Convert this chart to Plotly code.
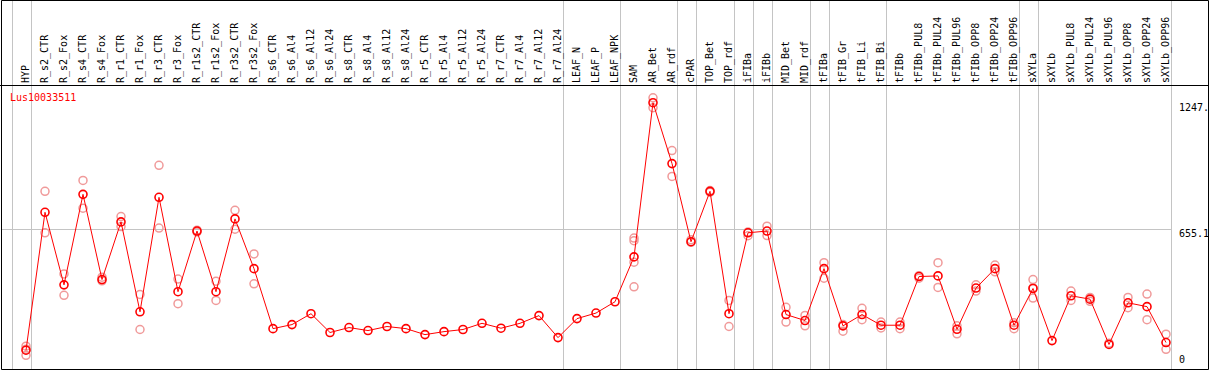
import plotly.graph_objects as go

# ---------------- data ----------------
gene = "Lus10033511"

categories = [
    "HYP", "R_s2_CTR", "R_s2_Fox", "R_s4_CTR", "R_s4_Fox", "R_r1_CTR", "R_r1_Fox",
    "R_r3_CTR", "R_r3_Fox", "R_r1s2_CTR", "R_r1s2_Fox", "R_r3s2_CTR", "R_r3s2_Fox",
    "R_s6_CTR", "R_s6_Al4", "R_s6_Al12", "R_s6_Al24", "R_s8_CTR", "R_s8_Al4",
    "R_s8_Al12", "R_s8_Al24", "R_r5_CTR", "R_r5_Al4", "R_r5_Al12", "R_r5_Al24",
    "R_r7_CTR", "R_r7_Al4", "R_r7_Al12", "R_r7_Al24", "LEAF_N", "LEAF_P", "LEAF_NPK",
    "SAM", "AR_Bet", "AR_rdf", "cPAR", "TOP_Bet", "TOP_rdf", "iFIBa", "iFIBb",
    "MID_Bet", "MID_rdf", "tFIBa", "tFIB_Gr", "tFIB_Li", "tFIB_Bi", "tFIBb",
    "tFIBb_PUL8", "tFIBb_PUL24", "tFIBb_PUL96", "tFIBb_OPP8", "tFIBb_OPP24",
    "tFIBb_OPP96", "sXYLa", "sXYLb", "sXYLb_PUL8", "sXYLb_PUL24", "sXYLb_PUL96",
    "sXYLb_OPP8", "sXYLb_OPP24", "sXYLb_OPP96",
]

means = [
    88, 734, 394, 818, 419, 689, 268, 804, 362, 646,
    362, 703, 470, 189, 208, 259, 171, 194, 180, 199,
    189, 161, 175, 185, 214, 191, 214, 250, 147, 236,
    262, 315, 525, 1247, 962, 596, 832, 259, 638, 646,
    255, 227, 470, 202, 255, 205, 205, 433, 436, 186,
    379, 470, 205, 377, 133, 343, 327, 115, 310, 292, 124,
]

replicates = [
    [107, 64, 93], [832, 638], [445, 345], [883, 753], [430, 413],
    [714, 667], [349, 185], [954, 660], [421, 306], [650, 642],
    [411, 321], [743, 655], [539, 399],
    [], [], [], [], [], [], [], [], [], [], [], [], [], [], [], [], [], [], [],
    [613, 601, 500, 385], [1270, 1224], [1023, 902], [605, 593], [836, 828],
    [321, 199], [624, 642], [669, 625], [289, 220], [251, 202], [498, 425],
    [177, 208], [284, 231], [220, 192], [220, 189], [425, 437], [498, 382],
    [165, 202], [394, 365], [487, 455], [189, 217], [419, 380, 332], [],
    [365, 321], [335, 317], [121], [335, 287], [351, 231], [163, 92],
]

# indices of the last category of each group (group separators)
group_ends = [-1, 0, 28, 31, 34, 35, 37, 38, 39, 41, 42, 45, 52, 53, 60]

y_label_vals = [1247, 655.1, 0]
y_label_text = ["1247.", "655.1", "0"]
grid_vals = [655.1]

# ---------------- layout constants ----------------
W, H = 1209, 370
ML, MR, MT, MB = 1, 38, 85, 1
PW = W - ML - MR
PH = H - MT - MB
X_MIN, X_MAX = -25 / 19, 1145 / 19
Y_MAX = 1330
SEP_OFFSET = 5.5 / 19

RED = "#ff0000"
PINK = "#f09a9a"
GRID = "#c4c4c4"
FONT = "DejaVu Sans Mono"


def px_x(px):
    return (px - ML) / PW


def px_y(py):
    return (H - MB - py) / PH


def data_x(x):
    return (x - X_MIN) / (X_MAX - X_MIN)


xs = list(range(len(categories)))
rep_x, rep_y = [], []
for i, reps in enumerate(replicates):
    for v in reps:
        rep_x.append(i)
        rep_y.append(v)

fig = go.Figure()
fig.add_trace(go.Scatter(
    x=rep_x, y=rep_y, mode="markers",
    marker=dict(symbol="circle-open", size=8, color=PINK, line=dict(width=1.5, color=PINK)),
    hoverinfo="skip", showlegend=False, cliponaxis=False,
))
fig.add_trace(go.Scatter(
    x=xs, y=means, mode="lines+markers",
    line=dict(color=RED, width=1),
    marker=dict(symbol="circle-open", size=8, color=RED, line=dict(width=1.6, color=RED)),
    showlegend=False, cliponaxis=False,
))

shapes = []
for g in group_ends:
    xp = data_x(g + SEP_OFFSET)
    shapes.append(dict(type="line", xref="paper", yref="paper",
                       x0=xp, x1=xp, y0=px_y(369.5), y1=px_y(0),
                       line=dict(color=GRID, width=1), layer="below"))
# horizontal rule under labels
shapes.append(dict(type="line", xref="paper", yref="paper",
                   x0=px_x(0), x1=px_x(1209), y0=px_y(85.5), y1=px_y(85.5),
                   line=dict(color="black", width=1)))
# outer frame
shapes.append(dict(type="rect", xref="paper", yref="paper",
                   x0=px_x(1.5), x1=px_x(1208.5), y0=px_y(369.5), y1=px_y(0.5),
                   line=dict(color="black", width=1), fillcolor="rgba(0,0,0,0)"))

annotations = [dict(
    text=gene, xref="paper", yref="paper", x=px_x(8), y=px_y(97.5),
    xanchor="left", yanchor="middle", showarrow=False,
    font=dict(family=FONT, size=10, color=RED),
)]
for v, t in zip(y_label_vals, y_label_text):
    annotations.append(dict(
        text=t, xref="paper", yref="y", x=px_x(1177), y=v,
        xanchor="left", yanchor="top" if v > 0 else "bottom",
        yshift=3 if v > 0 else 2, showarrow=False,
        font=dict(family=FONT, size=10, color="black"),
    ))

fig.update_layout(
    width=W, height=H,
    margin=dict(l=ML, r=MR, t=MT, b=MB, pad=0, autoexpand=False),
    paper_bgcolor="white", plot_bgcolor="white",
    shapes=shapes, annotations=annotations,
    xaxis=dict(
        range=[X_MIN, X_MAX], side="top", tickmode="array",
        tickvals=xs, ticktext=categories, tickangle=-90,
        tickfont=dict(family=FONT, size=10, color="black"),
        ticks="", showgrid=False, zeroline=False, showline=False,
        ticklabelstandoff=1, automargin=False,
    ),
    yaxis=dict(
        range=[0, Y_MAX], tickmode="array", tickvals=grid_vals,
        showticklabels=False, ticks="", showgrid=True, gridcolor=GRID,
        gridwidth=1, zeroline=False, showline=False, automargin=False,
    ),
    hovermode=False,
)

fig.write_html(
    "out.html",
    config={"displayModeBar": False},
    post_script="document.body.style.margin='0';document.body.style.padding='0';",
)
